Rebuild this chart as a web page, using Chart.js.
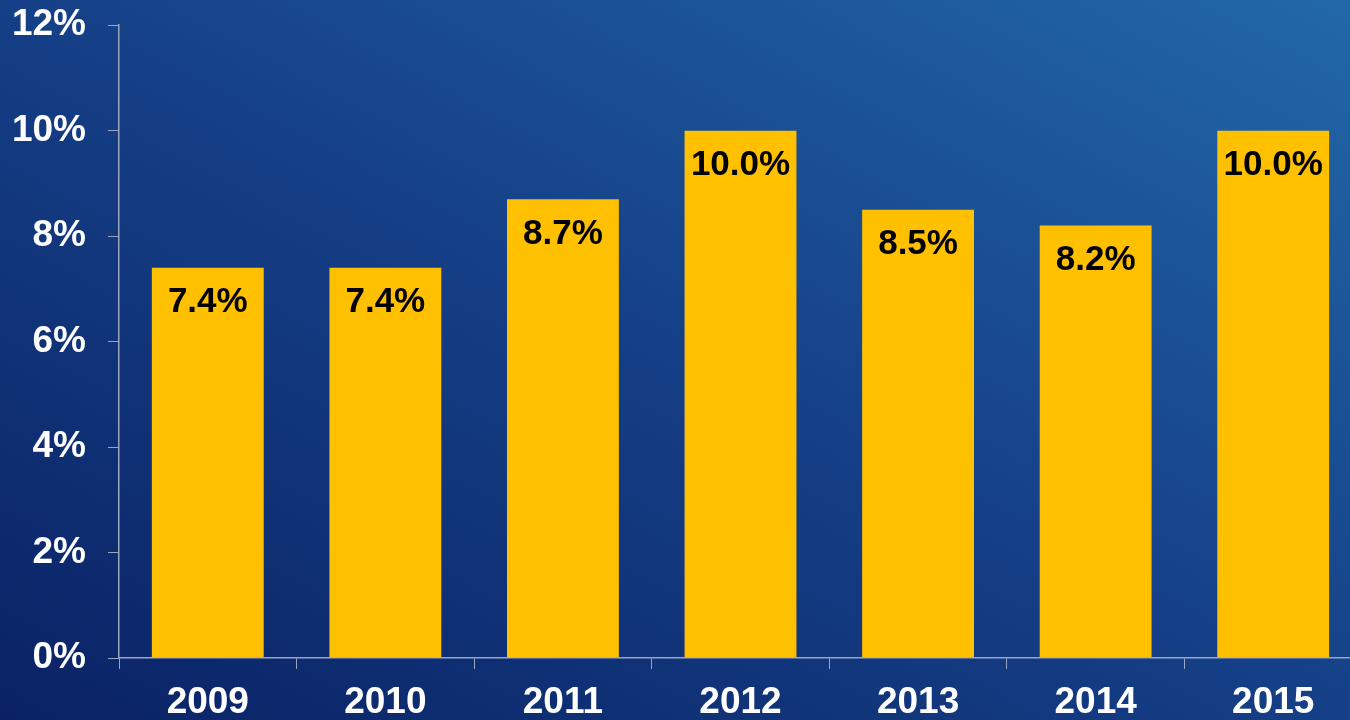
<!DOCTYPE html>
<html>
<head>
<meta charset="utf-8">
<script src="https://cdn.jsdelivr.net/npm/chart.js@4.4.1/dist/chart.umd.min.js"></script>
<style>
    html, body { margin: 0; padding: 0; overflow: hidden; }
    body {
        width: 1350px; height: 720px;
        background: linear-gradient(to top right, #0a2265 0%, #153f86 50%, #2268a8 100%);
    }
    /* shifted up so the 12% line sits near the top edge, and wider so the last category runs off the right */
    #wrap { position: absolute; left: 0; top: -19px; width: 1362px; height: 739px; }
</style>
</head>
<body>
<div id="wrap"><canvas id="mainChart"></canvas></div>
<script>
// Chart data
const years = ['2009', '2010', '2011', '2012', '2013', '2014', '2015'];
const rates = [7.4, 7.4, 8.7, 10.0, 8.5, 8.2, 10.0];
const yTicks = [0, 2, 4, 6, 8, 10, 12];

const axisColor = '#9aa6bf';
const font = 'Liberation Sans, Arial, sans-serif';

// draws the value labels inside the top of each bar
const barLabels = {
    id: 'barLabels',
    afterDatasetsDraw(chart) {
        const ctx = chart.ctx;
        const meta = chart.getDatasetMeta(0);
        ctx.save();
        ctx.fillStyle = '#000';
        ctx.font = 'bold 35px ' + font;
        ctx.textAlign = 'center';
        ctx.textBaseline = 'middle';
        meta.data.forEach((bar, i) => {
            ctx.fillText(rates[i].toFixed(1) + '%', bar.x, bar.y + 35);
        });
        ctx.restore();
    }
};

new Chart(document.getElementById('mainChart'), {
    type: 'bar',
    data: {
        labels: years,
        datasets: [{
            data: rates,
            backgroundColor: '#FFC000',
            barPercentage: 0.63,
            categoryPercentage: 1
        }]
    },
    options: {
        responsive: true,
        maintainAspectRatio: false,
        animation: false,
        layout: { padding: { top: 7, right: 0, left: 0, bottom: 0 } },
        plugins: {
            legend: { display: false },
            tooltip: { enabled: false }
        },
        scales: {
            x: {
                grid: { display: true, drawOnChartArea: false, color: axisColor, tickLength: 11, offset: true },
                border: { color: axisColor, width: 1.5 },
                ticks: { color: '#fff', font: { family: font, size: 37, weight: 'bold' }, padding: 12 },
                afterFit(scale) { scale.height = 62; }
            },
            y: {
                min: 0,
                max: 12,
                afterBuildTicks(scale) { scale.ticks = yTicks.map(v => ({ value: v })); },
                grid: { display: true, drawOnChartArea: false, color: axisColor, tickLength: 11 },
                border: { color: axisColor, width: 1.5 },
                ticks: {
                    color: '#fff',
                    font: { family: font, size: 37, weight: 'bold' },
                    padding: 22,
                    callback: v => v + '%'
                },
                afterFit(scale) { scale.width = 119; }
            }
        }
    },
    plugins: [barLabels]
});
</script>
</body>
</html>
